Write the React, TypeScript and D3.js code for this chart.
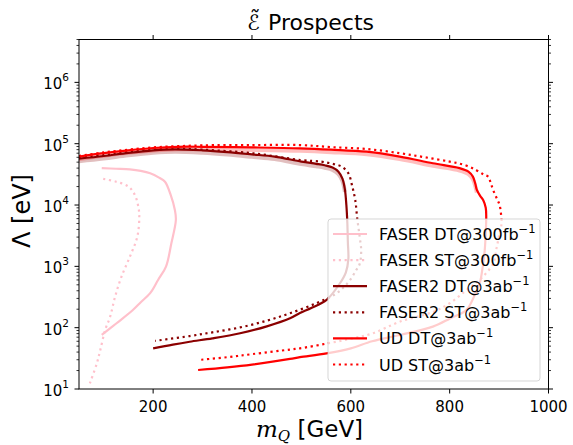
import React from "react";
import * as d3 from "d3";

// ---- data: [m_Q (GeV), Lambda (eV)] ----
const faserDT: [number, number][] = [
  [96, 40000], [125, 39000], [153, 38000], [175, 36000], [194, 33000], [212, 28000],
  [224, 24000], [235, 15000], [244, 8300], [246, 5700], [237, 2400], [226, 990],
  [210, 600], [194, 365], [175, 260], [159, 194], [126, 118], [96, 76],
];
const faserST: [number, number][] = [
  [99, 26700], [125, 24000], [150, 20000], [163, 14600], [170, 9400], [172, 6500],
  [168, 3050], [153, 1440], [136, 680], [123, 320], [113, 151], [103, 92],
  [93, 43], [86, 26], [72, 12.4],
];
const faser2DT: [number, number][] = [
  [50, 57000], [100, 63000], [150, 71000], [200, 78000], [244, 81000], [300, 78000],
  [350, 73000], [400, 67000], [446, 61600], [500, 51000], [530, 47000], [547, 44500],
  [563, 41000], [575, 35000], [583, 27000], [588, 18000], [591, 10000], [593, 5000],
  [594, 2500], [595, 1300], [590, 800], [578, 530], [551, 284], [520, 210], [497, 174],
  [477, 142], [430, 105], [376, 81], [320, 67], [274, 59], [240, 53], [200, 46],
];
const faser2ST: [number, number][] = [
  [50, 59000], [100, 65000], [150, 73000], [200, 80000], [250, 83000], [300, 80000],
  [400, 70000], [500, 54000], [540, 51000], [563, 47000], [582, 42000], [595, 33000],
  [603, 20000], [609, 12000], [613, 6000], [618, 3000], [621, 1800], [618, 1100],
  [611, 870], [595, 550], [571, 363], [530, 250], [477, 172], [430, 130], [376, 101],
  [320, 84], [274, 73], [204, 61],
];
const udDT: [number, number][] = [
  [50, 61600], [100, 70000], [150, 78000], [200, 85000], [250, 89000], [300, 89000],
  [400, 87000], [497, 84000], [560, 80000], [632, 74000], [699, 61600], [766, 48000],
  [820, 40000], [838, 35000], [847, 29000], [852, 22000], [855, 17600], [862, 14000],
  [868, 12000], [873, 9000], [874, 6500], [873, 3500], [871, 1850], [867, 1000],
  [861, 535], [850, 330], [834, 195], [800, 140], [766, 104], [699, 76], [643, 60],
  [600, 46], [551, 38], [497, 33], [477, 31], [400, 25], [350, 22.5], [291, 20.4],
];
const udST: [number, number][] = [
  [50, 63000], [100, 72000], [150, 80000], [200, 87000], [250, 91000], [300, 94000],
  [400, 95000], [497, 95000], [560, 88000], [632, 82000], [699, 70000], [750, 60000],
  [800, 51000], [830, 45000], [854, 37000], [870, 31000], [878, 29000], [883, 23000],
  [888, 17600], [895, 13000], [901, 10000], [904, 7000], [905, 5000], [901, 3470],
  [895, 2000], [888, 1120], [865, 650], [834, 410], [800, 250], [766, 180], [699, 125],
  [643, 80], [600, 66], [551, 55], [497, 46], [477, 44], [400, 37], [350, 33], [291, 29.7],
];

const seriesNames = [
  "FASER DT@300fb",
  "FASER ST@300fb",
  "FASER2 DT@3ab",
  "FASER2 ST@3ab",
  "UD DT@3ab",
  "UD ST@3ab",
];
const seriesData = [faserDT, faserST, faser2DT, faser2ST, udDT, udST];
const seriesColors = ["#ffc0cb", "#ffc0cb", "#8b0000", "#8b0000", "#ff0000", "#ff0000"];
const seriesDotted = [false, true, false, true, false, true];

const xTicks = [200, 400, 600, 800, 1000];
const yMajorExp = [1, 2, 3, 4, 5, 6];

export default function App() {
  const W = 573, H = 445;
  const L = 79, R = 548.5, T = 39.5, B = 389;
  const x = d3.scaleLinear().domain([50, 1000]).range([L, R]);
  const y = d3.scaleLog().domain([10, 5e6]).range([B, T]);
  const line = d3
    .line<[number, number]>()
    .x((d) => x(d[0]))
    .y((d) => y(d[1]))
    .curve(d3.curveCatmullRom.alpha(0.5));

  const minor: number[] = [];
  for (let e = 1; e <= 6; e++) {
    for (let k = 2; k <= 9; k++) {
      const v = k * Math.pow(10, e);
      if (v <= 5e6) minor.push(v);
    }
  }

  const font = "DejaVu Sans, sans-serif";
  const lw = 2.2;
  const dash = "2.2,3.6";

  const legX = 328, legY = 219, legW = 212, legH = 162;
  const rowY0 = 234, rowDy = 26.1;

  return (
    <svg width={W} height={H} style={{ position: "absolute", left: 0, top: 0, background: "#fff" }}>
      <rect x={0} y={0} width={W} height={H} fill="#fff" />
      <defs>
        <clipPath id="plotclip">
          <rect x={L} y={T} width={R - L} height={B - T} />
        </clipPath>
      </defs>

      {/* curves */}
      <g clipPath="url(#plotclip)">
        {seriesData.map((d, i) =>
          !seriesDotted[i] && i >= 2 ? (
            <path
              key={"g" + i}
              d={line(d.filter((p) => p[1] > 15000)) || ""}
              fill="none"
              stroke={seriesColors[i]}
              strokeOpacity={0.25}
              strokeWidth={4}
              transform="translate(0,2.5)"
            />
          ) : null
        )}
        {seriesData.map((d, i) => (
          <path
            key={i}
            d={line(d) || ""}
            fill="none"
            stroke={seriesColors[i]}
            strokeWidth={lw}
            strokeDasharray={seriesDotted[i] ? dash : undefined}
            strokeLinejoin="round"
          />
        ))}
      </g>

      {/* frame */}
      <rect x={L} y={T} width={R - L} height={B - T} fill="none" stroke="#000" strokeWidth={1} />

      {/* x ticks */}
      {xTicks.map((t) => (
        <g key={"x" + t}>
          <line x1={x(t)} x2={x(t)} y1={B} y2={B + 4.5} stroke="#000" strokeWidth={1} />
          <line x1={x(t)} x2={x(t)} y1={T} y2={T - 4.5} stroke="#000" strokeWidth={1} />
          <text x={x(t)} y={411.5} textAnchor="middle" fontFamily={font} fontSize={15} fill="#000">
            {t}
          </text>
        </g>
      ))}

      {/* y ticks */}
      {yMajorExp.map((e) => {
        const yy = y(Math.pow(10, e));
        return (
          <g key={"y" + e}>
            <line x1={L} x2={L - 4.5} y1={yy} y2={yy} stroke="#000" strokeWidth={1} />
            <line x1={R} x2={R + 4.5} y1={yy} y2={yy} stroke="#000" strokeWidth={1} />
            <text x={69} y={yy + 7} textAnchor="end" fontFamily={font} fontSize={15} fill="#000">
              10
              <tspan dy={-8} fontSize={10.5}>
                {e}
              </tspan>
            </text>
          </g>
        );
      })}
      {minor.map((v, i) => {
        const yy = y(v);
        return (
          <g key={"m" + i}>
            <line x1={L} x2={L - 2.5} y1={yy} y2={yy} stroke="#000" strokeWidth={0.8} />
            <line x1={R} x2={R + 2.5} y1={yy} y2={yy} stroke="#000" strokeWidth={0.8} />
          </g>
        );
      })}

      {/* title */}
      <text x={247} y={30} fontFamily={font} fontSize={21} fill="#000">
        <tspan fontStyle="italic">{"\u2130\u0303"}</tspan>
        <tspan x={268} y={30} fontSize={22}>Prospects</tspan>
      </text>

      {/* x label */}
      <text x={256} y={437} fontFamily={font} fontSize={23} fill="#000">
        <tspan fontStyle="italic" fontFamily="DejaVu Serif, serif">m</tspan>
        <tspan dy={4} fontSize={15} fontStyle="italic" fontFamily="DejaVu Serif, serif">Q</tspan>
        <tspan dy={-4}> [GeV]</tspan>
      </text>

      {/* y label */}
      <text
        transform={`translate(30,211) rotate(-90)`}
        textAnchor="middle"
        fontFamily={font}
        fontSize={24}
        fill="#000"
      >
        Λ [eV]
      </text>

      {/* legend */}
      <rect
        x={legX}
        y={legY}
        width={legW}
        height={legH}
        rx={3}
        fill="#fff"
        fillOpacity={0.8}
        stroke="#cccccc"
        strokeOpacity={0.8}
        strokeWidth={1}
      />
      {seriesNames.map((name, i) => {
        const ry = rowY0 + i * rowDy;
        return (
          <g key={"l" + i}>
            <line
              x1={333}
              x2={367}
              y1={ry}
              y2={ry}
              stroke={seriesColors[i]}
              strokeWidth={lw}
              strokeDasharray={seriesDotted[i] ? dash : undefined}
            />
            <text x={379} y={ry + 6} fontFamily={font} fontSize={16} fill="#000">
              {name}
              <tspan dy={-7} fontSize={11.5}>−1</tspan>
            </text>
          </g>
        );
      })}
    </svg>
  );
}
